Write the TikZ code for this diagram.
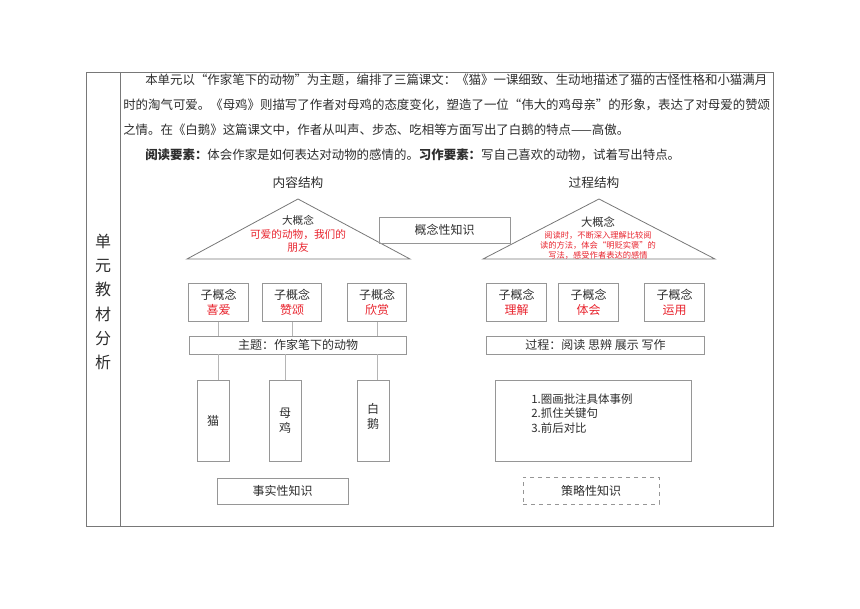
\documentclass[tikz,border=0pt]{standalone}
\usepackage{fontspec}
\setmainfont{Noto Sans CJK SC}
\definecolor{rulegray}{RGB}{120,120,120}
\definecolor{boxgray}{RGB}{150,150,150}
\definecolor{inkgray}{RGB}{45,45,45}
\definecolor{conred}{RGB}{232,35,45}

\begin{document}
\begin{tikzpicture}[x=0.75pt, y=-0.75pt, inkgray, font=\fontsize{9}{11}\selectfont,
  frame/.style={draw=boxgray, line width=0.6pt, inner sep=0pt, align=center},
  subbox/.style={frame, minimum width=44.5pt, minimum height=29pt, font=\fontsize{9}{11.2}\selectfont},
  barbox/.style={frame, minimum width=163pt, minimum height=13.5pt},
  tallbox/.style={frame, minimum width=24pt, minimum height=60.75pt, font=\fontsize{9}{11.2}\selectfont},
  kbox/.style={frame, minimum width=98.25pt, minimum height=19.5pt},
  link/.style={draw=boxgray!70, line width=0.5pt},
  para/.style={anchor=west, inner sep=0pt, font=\fontsize{9.33}{11}\selectfont}]
  \useasboundingbox (0,0) rectangle (860,609);

  % table frame
  \draw[rulegray, line width=0.6pt] (86,72) rectangle (773,526);
  \draw[rulegray, line width=0.6pt] (120,72) -- (120,526);
  \node[align=center, inner sep=0pt, font=\fontsize{12}{18.2}\selectfont] (unit) at (103,302) {单\\元\\教\\材\\分\\析};

  % intro paragraph, one node per line
  \node[para] (l1) at (145,80) {本单元以“作家笔下的动物”为主题，编排了三篇课文：《猫》一课细致、生动地描述了猫的古怪性格和小猫满月};
  \node[para] (l2) at (123,105) {时的淘气可爱。《母鸡》则描写了作者对母鸡的态度变化，塑造了一位“伟大的鸡母亲”的形象，表达了对母爱的赞颂};
  \node[para] (l3) at (123,130) {之情。在《白鹅》这篇课文中，作者从叫声、步态、吃相等方面写出了白鹅的特点——高傲。};
  \node[para] (l4) at (145,155) {\textbf{阅读要素：}体会作家是如何表达对动物的感情的。\textbf{习作要素：}写自己喜欢的动物，试着写出特点。};

  % content structure (left)
  \node[font=\fontsize{9.5}{11}\selectfont] (hleft) at (298,183) {内容结构};
  \draw[rulegray, line width=0.6pt] (187,259) -- (298,199) -- (410,259) -- cycle;
  \node[align=center, font=\fontsize{8}{10}\selectfont] (bigl) at (298,234) {大概念\\{\color{conred}可爱的动物，我们的}\\{\color{conred}朋友}};
  \node[kbox] (concept) at (444.5,230) {概念性知识};

  \foreach \n/\x/\t in {c1/218.5/喜爱, c2/292/赞颂, c3/377/欣赏}
    \node[subbox] (\n) at (\x,302.5) {子概念\\{\color{conred}\t}};
  \node[barbox] (theme) at (298,345) {主题：作家笔下的动物};
  \node[tallbox] (a1) at (213,420.5) {猫};
  \node[tallbox] (a2) at (285,420.5) {母\\鸡};
  \node[tallbox] (a3) at (373,420.5) {白\\鹅\\[-3.7pt]};
  \foreach \n in {c1,c2,c3}
    \draw[link] (\n.south) -- (\n.south |- theme.north);
  \draw[link] (c1.south |- theme.south) -- (c1.south |- a1.north);
  \draw[link] (a2.north |- theme.south) -- (a2.north);
  \draw[link] (c3.south |- theme.south) -- (c3.south |- a3.north);
  \node[kbox] (fact) at (282.5,491) {事实性知识};

  % process structure (right)
  \node[font=\fontsize{9.5}{11}\selectfont] (hright) at (594,183) {过程结构};
  \draw[rulegray, line width=0.6pt] (483,259) -- (599,199) -- (715,259) -- cycle;
  \node[font=\fontsize{8.5}{10}\selectfont] (bigr) at (598,222) {大概念};
  \node[align=center, conred, font=\fontsize{6.2}{7.5}\selectfont] (bigrtxt) at (598,245) {阅读时，不断深入理解比较阅\\读的方法，体会“明贬实褒”的\\写法，感受作者表达的感情};

  \foreach \n/\x/\t in {r1/516.5/理解, r2/588.5/体会, r3/674.5/运用}
    \node[subbox] (\n) at (\x,302.5) {子概念\\{\color{conred}\t}};
  \node[barbox] (proc) at (595.5,345) {过程：阅读 思辨 展示 写作};
  \node[frame, minimum width=147pt, minimum height=60.75pt] (strat) at (593,420.5) {};
  \node[anchor=west, align=left, inner sep=0pt, font=\fontsize{8.6}{10.9}\selectfont] (steps) at (531,413.5) {1.圈画批注具体事例\\2.抓住关键句\\3.前后对比};
  \node[kbox, dashed, minimum width=102pt, minimum height=20.25pt] (stratk) at (591,490.5) {策略性知识};
\end{tikzpicture}
\end{document}
